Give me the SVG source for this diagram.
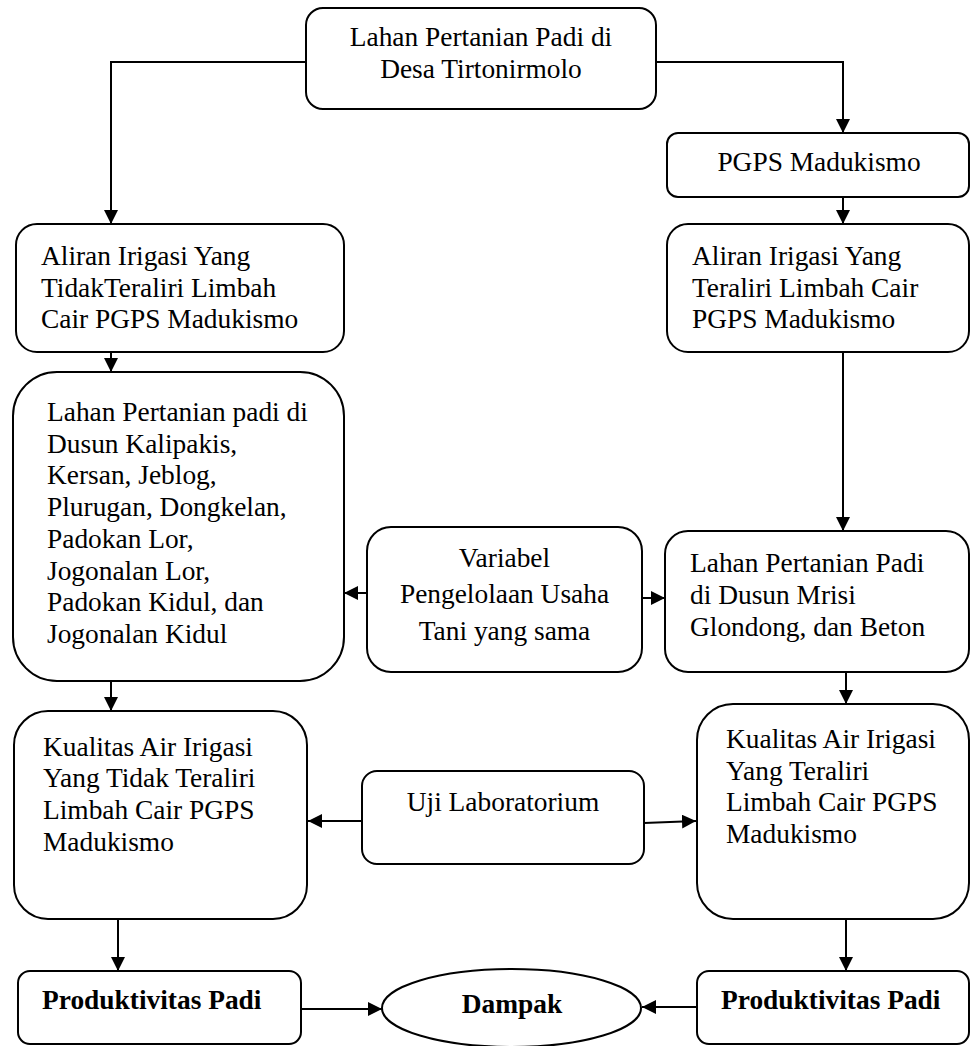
<svg xmlns="http://www.w3.org/2000/svg" width="971" height="1046" viewBox="0 0 971 1046">
<style>
.box{fill:#fff;stroke:#000;stroke-width:2}
.t{font-family:"Liberation Serif","Times New Roman",serif;font-size:27.4px;fill:#000}
.c{text-anchor:middle}
.b{font-weight:bold}
.ln{fill:none;stroke:#000;stroke-width:2}
</style>
<defs>
<marker id="ah" markerUnits="userSpaceOnUse" markerWidth="14" markerHeight="14" refX="14" refY="7" orient="auto">
<path d="M0,0 L14,7 L0,14 z" fill="#000"/>
</marker>
</defs>
<rect width="971" height="1046" fill="#fff"/>
<g id="connectors">
<path class="ln" d="M306,62 H111 V224" marker-end="url(#ah)"/>
<path class="ln" d="M656,62 H843 V133" marker-end="url(#ah)"/>
<path class="ln" d="M843,197 V224" marker-end="url(#ah)"/>
<path class="ln" d="M111,352 V372" marker-end="url(#ah)"/>
<path class="ln" d="M843,352 V531" marker-end="url(#ah)"/>
<path class="ln" d="M367,593 H344" marker-end="url(#ah)"/>
<path class="ln" d="M642,598 H665" marker-end="url(#ah)"/>
<path class="ln" d="M111,681 V711" marker-end="url(#ah)"/>
<path class="ln" d="M846,672 V704" marker-end="url(#ah)"/>
<path class="ln" d="M362,821 H308" marker-end="url(#ah)"/>
<path class="ln" d="M644,823 L696,821" marker-end="url(#ah)"/>
<path class="ln" d="M118,919 V971" marker-end="url(#ah)"/>
<path class="ln" d="M846,919 V971" marker-end="url(#ah)"/>
<path class="ln" d="M301,1009 H382" marker-end="url(#ah)"/>
<path class="ln" d="M697,1007 H642" marker-end="url(#ah)"/>
</g>
<g id="top">
<rect class="box" x="306" y="8" width="350" height="101" rx="17"/>
<text class="t c" x="481" y="46">Lahan Pertanian Padi di</text>
<text class="t c" x="481" y="78">Desa Tirtonirmolo</text>
</g>
<g id="pgps">
<rect class="box" x="667" y="133" width="302" height="64" rx="11"/>
<text class="t c" x="819" y="171">PGPS Madukismo</text>
</g>
<g id="aliran-left">
<rect class="box" x="16" y="224" width="328" height="128" rx="21"/>
<text class="t" x="41" y="265">Aliran Irigasi Yang</text>
<text class="t" x="41" y="297">TidakTeraliri Limbah</text>
<text class="t" x="41" y="328">Cair PGPS Madukismo</text>
</g>
<g id="aliran-right">
<rect class="box" x="667" y="224" width="302" height="128" rx="21"/>
<text class="t" x="692" y="265">Aliran Irigasi Yang</text>
<text class="t" x="692" y="297">Teraliri Limbah Cair</text>
<text class="t" x="692" y="328">PGPS Madukismo</text>
</g>
<g id="lahan-left">
<rect class="box" x="13" y="372" width="331" height="309" rx="44"/>
<text class="t" x="47" y="421">Lahan Pertanian padi di</text>
<text class="t" x="47" y="453">Dusun Kalipakis,</text>
<text class="t" x="47" y="484">Kersan, Jeblog,</text>
<text class="t" x="47" y="516">Plurugan, Dongkelan,</text>
<text class="t" x="47" y="548">Padokan Lor,</text>
<text class="t" x="47" y="580">Jogonalan Lor,</text>
<text class="t" x="47" y="611">Padokan Kidul, dan</text>
<text class="t" x="47" y="643">Jogonalan Kidul</text>
</g>
<g id="variabel">
<rect class="box" x="367" y="527" width="275" height="145" rx="24"/>
<text class="t c" x="504.5" y="567">Variabel</text>
<text class="t c" x="504.5" y="603">Pengelolaan Usaha</text>
<text class="t c" x="504.5" y="640">Tani yang sama</text>
</g>
<g id="lahan-right">
<rect class="box" x="665" y="531" width="304" height="141" rx="23"/>
<text class="t" x="690" y="572">Lahan Pertanian Padi</text>
<text class="t" x="690" y="604">di Dusun Mrisi</text>
<text class="t" x="690" y="636">Glondong, dan Beton</text>
</g>
<g id="kualitas-left">
<rect class="box" x="14" y="711" width="293" height="208" rx="34"/>
<text class="t" x="43" y="756">Kualitas Air Irigasi</text>
<text class="t" x="43" y="787">Yang Tidak Teraliri</text>
<text class="t" x="43" y="819">Limbah Cair PGPS</text>
<text class="t" x="43" y="851">Madukismo</text>
</g>
<g id="uji">
<rect class="box" x="362" y="771" width="282" height="93" rx="15"/>
<text class="t c" x="503" y="811">Uji Laboratorium</text>
</g>
<g id="kualitas-right">
<rect class="box" x="697" y="704" width="272" height="215" rx="36"/>
<text class="t" x="726" y="748">Kualitas Air Irigasi</text>
<text class="t" x="726" y="780">Yang Teraliri</text>
<text class="t" x="726" y="811">Limbah Cair PGPS</text>
<text class="t" x="726" y="843">Madukismo</text>
</g>
<g id="prod-left">
<rect class="box" x="18" y="971" width="283" height="73" rx="12"/>
<text class="t b" x="42" y="1009">Produktivitas Padi</text>
</g>
<g id="dampak">
<ellipse class="box" cx="511.5" cy="1008" rx="129.5" ry="39"/>
<text class="t b c" x="512" y="1013">Dampak</text>
</g>
<g id="prod-right">
<rect class="box" x="697" y="971" width="272" height="73" rx="12"/>
<text class="t b" x="721" y="1009">Produktivitas Padi</text>
</g>
</svg>
